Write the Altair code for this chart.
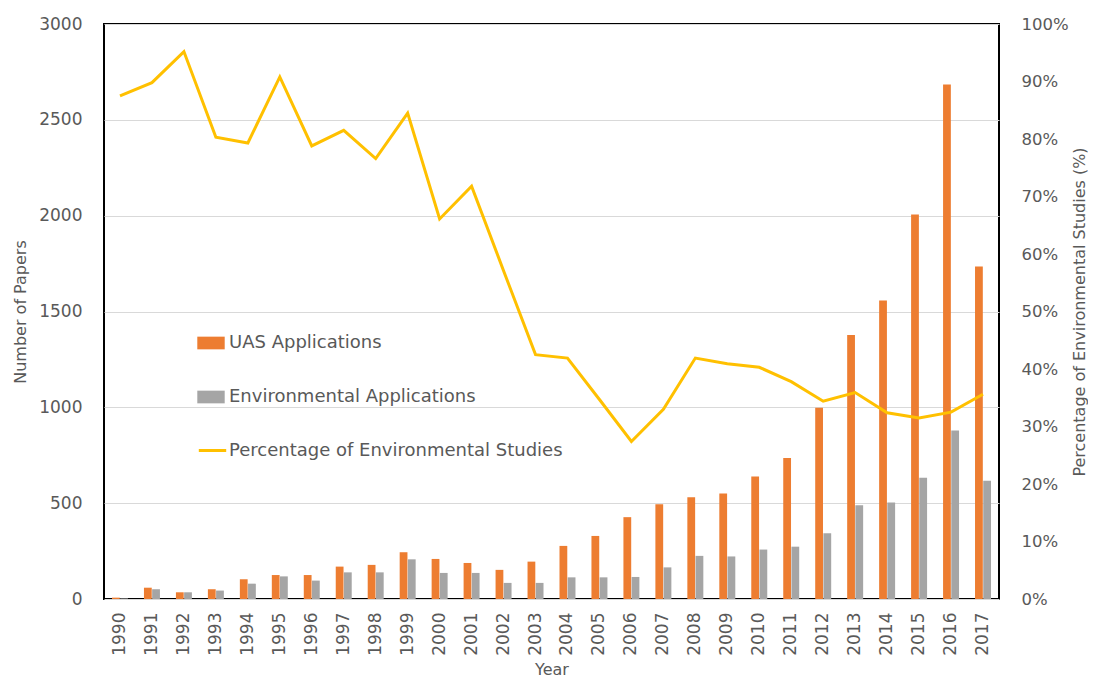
import altair as alt
import pandas as pd

years = ["1990", "1991", "1992", "1993", "1994", "1995", "1996", "1997", "1998", "1999",
         "2000", "2001", "2002", "2003", "2004", "2005", "2006", "2007", "2008", "2009",
         "2010", "2011", "2012", "2013", "2014", "2015", "2016", "2017"]
uas = [7, 59, 35, 51, 103, 125, 125, 169, 178, 244, 209, 188, 152, 195, 277, 329, 427,
       495, 531, 550, 639, 736, 998, 1378, 1557, 2006, 2684, 1735]
env = [3, 51, 35, 44, 80, 118, 96, 139, 139, 207, 136, 136, 84, 84, 113, 113, 115,
       165, 225, 222, 258, 273, 343, 489, 504, 632, 879, 617]
pct = [87.5, 89.8, 95.2, 80.3, 79.3, 90.8, 78.8, 81.5, 76.6, 84.5, 66.1, 71.8, 57.1,
       42.5, 41.9, 34.7, 27.4, 33.0, 41.9, 40.9, 40.3, 37.8, 34.4, 35.9, 32.4, 31.5,
       32.5, 35.6]

series = ["UAS Applications", "Environmental Applications"]
line_name = "Percentage of Environmental Studies"
y_ticks = [0, 500, 1000, 1500, 2000, 2500, 3000]
pct_ticks = [0, 0.1, 0.2, 0.3, 0.4, 0.5, 0.6, 0.7, 0.8, 0.9, 1.0]

bars_df = pd.DataFrame({
    "Year": years * 2,
    "Series": [series[0]] * len(years) + [series[1]] * len(years),
    "Papers": uas + env,
})
line_df = pd.DataFrame({
    "Year": years,
    "Metric": [line_name] * len(years),
    "Pct": [p / 100 for p in pct],
})

FONT = "DejaVu Sans"
TXT = "#595959"

x_enc = alt.X(
    "Year:O",
    sort=years,
    scale=alt.Scale(paddingInner=0.5, paddingOuter=0.25),
    axis=alt.Axis(
        labelAngle=-90, labelFontSize=17, labelColor=TXT, labelPadding=13,
        ticks=False, domain=False, grid=False,
        title="Year", titleFontSize=16, titleFontWeight="normal", titleColor=TXT,
        titlePadding=6,
    ),
)

bars = alt.Chart(bars_df).mark_bar().encode(
    x=x_enc,
    xOffset=alt.XOffset("Series:N", sort=series,
                        scale=alt.Scale(domain=series, paddingInner=0.05)),
    y=alt.Y(
        "Papers:Q",
        scale=alt.Scale(domain=[0, 3000], nice=False),
        axis=alt.Axis(
            values=y_ticks, format="d", grid=True, gridColor="#D9D9D9", gridWidth=1,
            domain=False, ticks=False, labelFontSize=17, labelColor=TXT,
            labelPadding=22, title="Number of Papers", titleFontSize=16,
            titleFontWeight="normal", titleColor=TXT, titlePadding=10,
        ),
    ),
    fill=alt.Fill(
        "Series:N",
        sort=series,
        scale=alt.Scale(domain=series, range=["#ED7D31", "#A5A5A5"]),
        legend=alt.Legend(
            orient="none", legendX=93, legendY=305, direction="vertical",
            title=None, padding=0,
            symbolType="M-1,-0.463H1V0.463H-1Z", symbolSize=751,
            symbolStrokeWidth=0, symbolOpacity=1,
            labelFontSize=18, labelColor=TXT, labelFont=FONT, labelOffset=4,
            labelLimit=0, rowPadding=31,
        ),
    ),
)

line = alt.Chart(line_df).mark_line(strokeWidth=3).encode(
    x=x_enc,
    y=alt.Y(
        "Pct:Q",
        scale=alt.Scale(domain=[0, 1], nice=False),
        axis=alt.Axis(
            orient="right", values=pct_ticks, format=".0%", grid=False,
            domain=False, ticks=False, labelFontSize=16.5, labelColor=TXT,
            labelPadding=22, title="Percentage of Environmental Studies (%)",
            titleFontSize=16, titleFontWeight="normal", titleColor=TXT,
            titlePadding=3, titleAngle=270, titleBaseline="top",
        ),
    ),
    stroke=alt.Stroke(
        "Metric:N",
        scale=alt.Scale(domain=[line_name], range=["#FFC000"]),
        legend=alt.Legend(
            orient="none", legendX=93, legendY=411, title=None, padding=0,
            symbolType="stroke", symbolSize=751, symbolStrokeWidth=3,
            labelFontSize=18, labelColor=TXT, labelFont=FONT, labelOffset=1,
            labelLimit=0,
        ),
    ),
)

chart = alt.layer(bars, line).resolve_scale(
    y="independent", fill="independent", stroke="independent"
).properties(
    width=1080, height=670,
    autosize=alt.AutoSizeParams(type="fit", contains="padding"),
    padding={"left": 4, "top": 7, "right": 0, "bottom": 0},
).configure(
    font=FONT,
).configure_view(
    stroke="black", strokeWidth=2,
)

chart.save("out.html", embed_options={"renderer": "svg", "actions": False})
